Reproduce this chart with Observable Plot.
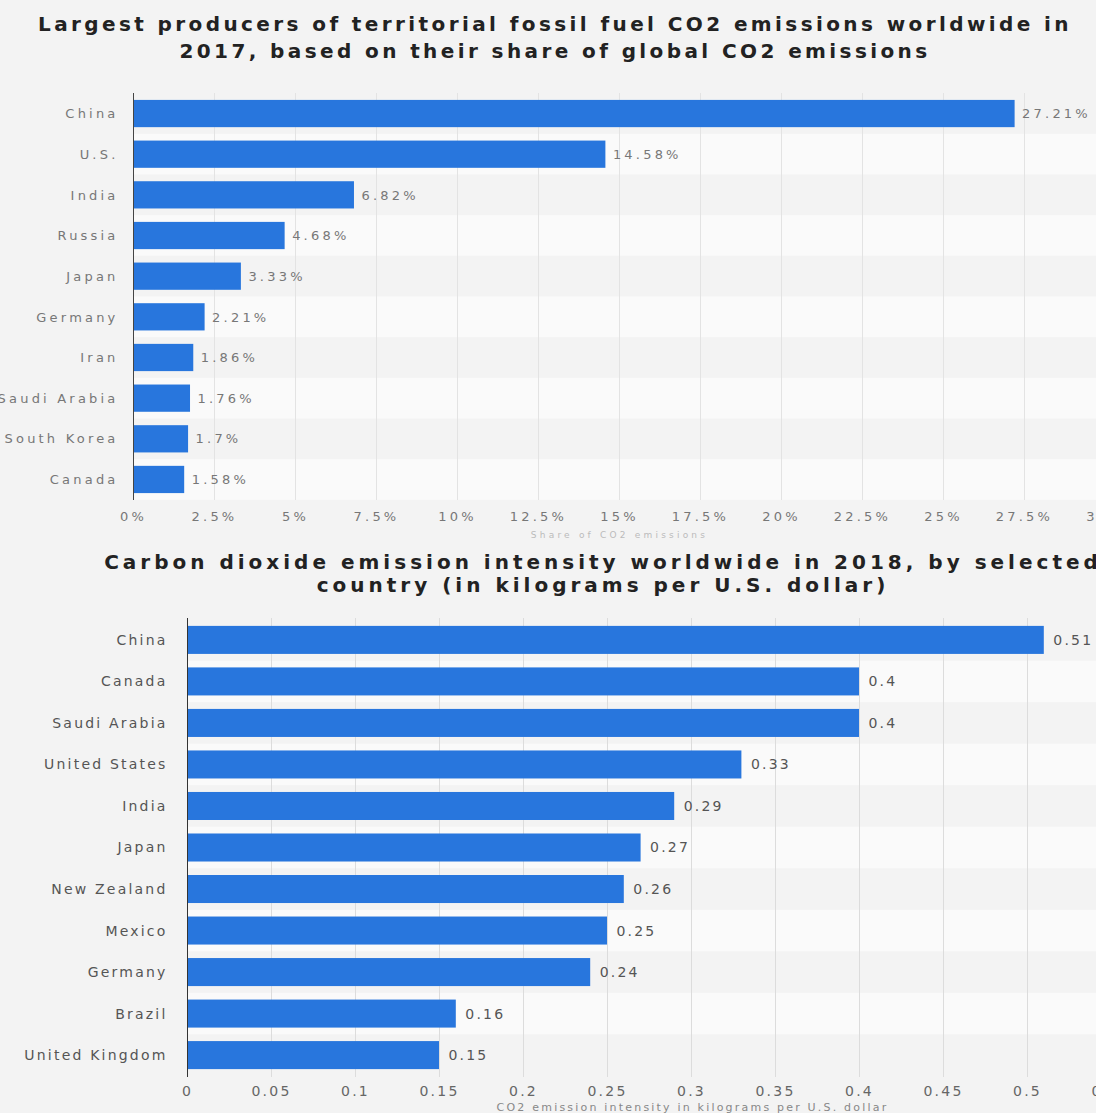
<!DOCTYPE html>
<html>
<head>
<meta charset="utf-8">
<script src="https://cdn.jsdelivr.net/npm/d3@7"></script>
<script src="https://cdn.jsdelivr.net/npm/@observablehq/plot@0.6"></script>
<style>
  html, body { margin: 0; padding: 0; }
  body { width: 1096px; height: 1113px; overflow: hidden; background: #f3f3f3; position: relative; font-family: "DejaVu Sans", sans-serif; }
  .title { position: absolute; left: 0; text-align: center; font-weight: bold; color: #222; font-size: 20px; white-space: nowrap; }
  #t1 { top: 11px; width: 1110px; line-height: 27px; letter-spacing: 3.4px; }
  #t2 { top: 551px; width: 1206px; line-height: 23px; letter-spacing: 4.0px; }
  #c1, #c2 { position: absolute; left: 0; width: 1200px; }
  #c1 { top: 88px; }
  #c2 { top: 610px; }
  #c1 svg, #c2 svg { max-width: none !important; }
</style>
</head>
<body>
<div class="title" id="t1">Largest producers of territorial fossil fuel CO2 emissions worldwide in<br>2017, based on their share of global CO2 emissions</div>
<div class="title" id="t2">Carbon dioxide emission intensity worldwide in 2018, by selected<br>country (in kilograms per U.S. dollar)</div>
<div id="c1"></div>
<div id="c2"></div>
<script>
// ---- Chart 1 data ----
const topCountries = ["China", "U.S.", "India", "Russia", "Japan", "Germany", "Iran", "Saudi Arabia", "South Korea", "Canada"];
const topShares = [27.21, 14.58, 6.82, 4.68, 3.33, 2.21, 1.86, 1.76, 1.7, 1.58];
const topTicks = [0, 2.5, 5, 7.5, 10, 12.5, 15, 17.5, 20, 22.5, 25, 27.5, 30];
const topAxisLabel = "Share of CO2 emissions";

// ---- Chart 2 data ----
const botCountries = ["China", "Canada", "Saudi Arabia", "United States", "India", "Japan", "New Zealand", "Mexico", "Germany", "Brazil", "United Kingdom"];
const botIntensity = [0.51, 0.4, 0.4, 0.33, 0.29, 0.27, 0.26, 0.25, 0.24, 0.16, 0.15];
const botTicks = [0, 0.05, 0.1, 0.15, 0.2, 0.25, 0.3, 0.35, 0.4, 0.45, 0.5, 0.55];
const botAxisLabel = "CO2 emission intensity in kilograms per U.S. dollar";

const BLUE = "#2876dd";

const topRows = topCountries.map((c, i) => ({country: c, value: topShares[i]}));
const botRows = botCountries.map((c, i) => ({country: c, value: botIntensity[i]}));

const topMax = topTicks[topTicks.length - 1];
const botMax = botTicks[botTicks.length - 1];

const chart1 = Plot.plot({
  width: 1125,
  height: 457,
  marginLeft: 133,
  marginRight: 20,
  marginTop: 5,
  marginBottom: 45,
  x: {domain: [0, topMax]},
  y: {domain: topCountries, paddingInner: 0.33, paddingOuter: 0.17, round: false},
  style: {background: "transparent", fontFamily: "DejaVu Sans", fontSize: "13px", letterSpacing: "3.2px", color: "#777", overflow: "visible", maxWidth: "none"},
  marks: [
    Plot.barX(topRows.filter((d, i) => i % 2 === 1), {x1: 0, x2: topMax, y: "country", fill: "#fafafa", insetTop: -6.7, insetBottom: -6.7}),
    Plot.gridX(topTicks, {stroke: "#e3e3e3", strokeOpacity: 1}),
    Plot.barX(topRows, {x: "value", y: "country", fill: BLUE}),
    Plot.text(topRows, {x: "value", y: "country", text: d => d.value + "%", dx: 7, textAnchor: "start", fill: "#777"}),
    Plot.ruleX([0], {stroke: "#444"}),
    Plot.axisX({ticks: topTicks, tickFormat: d => d + "%", tickSize: 0, tickPadding: 11, label: null}),
    Plot.axisY({tickSize: 0, tickPadding: 15, label: null}),
    Plot.text([topAxisLabel], {frameAnchor: "bottom", text: d => d, dy: 37, fontSize: 9, fill: "#bbb"})
  ]
});
document.getElementById("c1").appendChild(chart1);

const chart2 = Plot.plot({
  width: 1131,
  height: 503,
  marginLeft: 187,
  marginRight: 20,
  marginTop: 8,
  marginBottom: 36,
  x: {domain: [0, botMax]},
  y: {domain: botCountries, paddingInner: 0.325, paddingOuter: 0.19, round: false},
  style: {background: "transparent", fontFamily: "DejaVu Sans", fontSize: "14px", letterSpacing: "2.2px", color: "#555", overflow: "visible", maxWidth: "none"},
  marks: [
    Plot.barX(botRows.filter((d, i) => i % 2 === 1), {x1: 0, x2: botMax, y: "country", fill: "#fafafa", insetTop: -6.75, insetBottom: -6.75}),
    Plot.gridX(botTicks, {stroke: "#dcdcdc", strokeOpacity: 1}),
    Plot.barX(botRows, {x: "value", y: "country", fill: BLUE}),
    Plot.text(botRows, {x: "value", y: "country", text: d => String(d.value), dx: 9, textAnchor: "start", fill: "#555"}),
    Plot.ruleX([0], {stroke: "#333"}),
    Plot.axisX({ticks: botTicks, tickFormat: d => String(d), tickSize: 0, tickPadding: 9, label: null, fill: "#666"}),
    Plot.axisY({tickSize: 0, tickPadding: 20, label: null}),
    Plot.text([botAxisLabel], {frameAnchor: "bottom", text: d => d, dy: 33, dx: 43, fontSize: 11, fill: "#888"})
  ]
});
document.getElementById("c2").appendChild(chart2);
</script>
</body>
</html>
